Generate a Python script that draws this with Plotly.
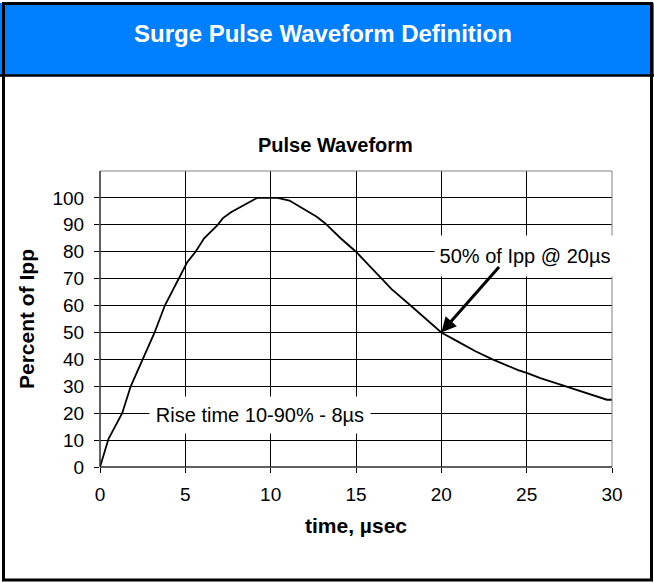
import plotly.graph_objects as go

# ---- data ----
time_us = [0, 0.5, 1.3, 1.8, 2.5, 3.2, 3.8, 4.6, 5.1, 5.6, 6.1, 6.9, 7.2, 7.7, 8.2, 8.7, 9.2,
           10.0, 10.4, 11.1, 11.9, 12.7, 13.2, 14.1, 15.0, 16.2, 16.7, 17.1, 18.2, 19.1,
           20.0, 21.0, 22.0, 23.0, 24.5, 25.0, 25.8, 26.8, 28.2, 29.7, 30.0]
percent_ipp = [0, 10.5, 20, 30, 40, 50, 60, 70, 76, 80, 85, 90, 92.5, 94.8, 96.5, 98.5, 100,
               100, 100, 99, 96, 93, 90.5, 85, 80, 72, 69, 66, 60, 55,
               50, 46.5, 43, 40, 36, 35, 33, 31, 28, 25, 25]
x_ticks = [0, 5, 10, 15, 20, 25, 30]
y_ticks = [0, 10, 20, 30, 40, 50, 60, 70, 80, 90, 100]

header_text = "Surge Pulse Waveform Definition"
chart_title = "Pulse Waveform"
x_title = "time, µsec"
y_title = "Percent of Ipp"
rise_note = "Rise time 10-90% - 8µs"
half_note = "50% of Ipp @ 20µs"

W, H = 654, 582
L, R, T, B = 100, 42, 171, 115
PW, PH = W - L - R, H - T - B

def px(xp):
    return (xp - L) / PW

def py(yp):
    return (H - B - yp) / PH

FONT = "Liberation Sans, Arial, sans-serif"

fig = go.Figure()
fig.add_trace(go.Scatter(x=time_us, y=percent_ipp, mode="lines",
                         line=dict(color="black", width=1.8), showlegend=False,
                         hoverinfo="skip"))

shapes = [
    dict(type="rect", xref="paper", yref="paper", x0=px(0), x1=px(W), y0=py(75), y1=py(3),
         fillcolor="#0080FF", line=dict(width=0), layer="below"),
    dict(type="line", xref="paper", yref="paper", x0=px(0), x1=px(W), y0=py(75.5), y1=py(75.5),
         line=dict(color="black", width=2.5)),
    dict(type="rect", xref="paper", yref="paper", x0=px(3.5), x1=px(651.5), y0=py(580), y1=py(3.5),
         line=dict(color="black", width=3)),
    dict(type="rect", xref="paper", yref="paper", x0=0, x1=1, y0=0, y1=1,
         line=dict(color="#808080", width=1)),
    dict(type="line", xref="paper", yref="paper", x0=0, x1=0, y0=0, y1=1,
         line=dict(color="black", width=1)),
    dict(type="line", xref="paper", yref="paper", x0=0, x1=1, y0=0, y1=0,
         line=dict(color="black", width=1)),
]

annotations = [
    dict(text="<b>" + header_text + "</b>", xref="paper", yref="paper", x=px(323), y=py(34),
         showarrow=False, font=dict(family=FONT, size=24, color="white"),
         xanchor="center", yanchor="middle"),
    dict(text="<b>" + chart_title + "</b>", xref="paper", yref="paper", x=px(335), y=py(145),
         showarrow=False, font=dict(family=FONT, size=20, color="black"),
         xanchor="center", yanchor="middle"),
    dict(text=rise_note, x=9.4, y=19.3, showarrow=False, bgcolor="white",
         font=dict(family=FONT, size=20, color="black"), width=214, height=30, borderpad=3),
    dict(text=half_note, x=24.9, y=78.3, showarrow=False, bgcolor="white",
         font=dict(family=FONT, size=20, color="black"), width=176, height=36, borderpad=2),
    dict(text="", x=20, y=50, showarrow=True, ax=59, ay=-67, arrowhead=2, arrowsize=1,
         arrowwidth=3, arrowcolor="black"),
]

fig.update_layout(
    width=W, height=H,
    margin=dict(l=L, r=R, t=T, b=B, pad=0),
    paper_bgcolor="white", plot_bgcolor="white",
    font=dict(family=FONT, size=19, color="black"),
    shapes=shapes, annotations=annotations,
    xaxis=dict(range=[0, 30], tickvals=x_ticks, showgrid=True, gridcolor="black", gridwidth=1,
               zeroline=False, showline=False, ticks="outside", ticklen=5, tickcolor="black",
               tickfont=dict(size=19), ticklabelstandoff=5,
               title=dict(text="<b>" + x_title + "</b>", font=dict(size=21), standoff=14)),
    yaxis=dict(range=[0, 110], tickvals=y_ticks, showgrid=True, gridcolor="black", gridwidth=1,
               zeroline=False, showline=False, ticks="outside", ticklen=5, tickcolor="black",
               tickfont=dict(size=19), ticklabelstandoff=6,
               title=dict(text="<b>" + y_title + "</b>", font=dict(size=21), standoff=12)),
)

fig.write_html("out.html", config={"displayModeBar": False},
               post_script="document.body.style.margin='0px';document.body.style.overflow='hidden';")
